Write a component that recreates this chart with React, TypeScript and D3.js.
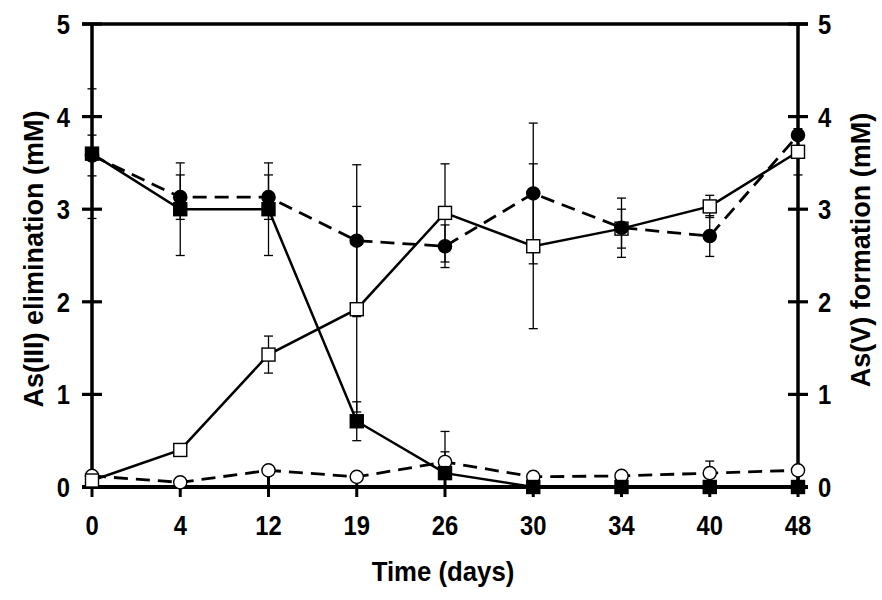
import React from "react";
import * as d3 from "d3";

const categories = ["0", "4", "12", "19", "26", "30", "34", "40", "48"];
const yTicks = [0, 1, 2, 3, 4, 5];

// filled squares, solid line
const filledSquare = [3.6, 3.0, 3.0, 0.71, 0.15, 0.0, 0.0, 0.0, 0.0];
const filledSquareErr = [0.7, 0.5, 0.5, 0.21, 0.23, 0, 0, 0, 0];
// filled circles, dashed line
const filledCircle = [3.58, 3.13, 3.13, 2.66, 2.6, 3.17, 2.8, 2.71, 3.8];
const filledCircleErr = [0.22, 0.24, 0.24, 0.82, 0.23, 0.76, 0.32, 0.22, 0.2];
// open squares, solid line
const openSquare = [0.07, 0.4, 1.43, 1.92, 2.96, 2.6, 2.79, 3.03, 3.62];
const openSquareErr = [0.02, 0.03, 0.2, 1.11, 0.53, 0.89, 0.21, 0.12, 0.25];
// open circles, dashed line
const openCircle = [0.12, 0.05, 0.18, 0.11, 0.27, 0.11, 0.12, 0.15, 0.18];
const openCircleErr = [0.05, 0.02, 0.03, 0.03, 0.33, 0.03, 0.03, 0.13, 0.03];

const W = 882;
const H = 600;
const FONT = "'Liberation Sans', Arial, sans-serif";

export default function App() {
  const x = d3.scalePoint<string>().domain(categories).range([92, 798]);
  const y = d3.scaleLinear().domain([0, 5]).range([487, 24]);
  const x0 = 92;
  const x1 = 798;

  const line = d3
    .line<number>()
    .x((_, i) => x(categories[i]) as number)
    .y((d) => y(d));

  const errBars = (vals: number[], errs: number[], key: string) =>
    vals.map((v, i) => {
      const e = errs[i];
      if (!e) return null;
      const cx = x(categories[i]) as number;
      const lo = Math.max(0, v - e);
      const hi = v + e;
      return (
        <g key={key + i} stroke="#000" strokeWidth={1.3}>
          <line x1={cx} x2={cx} y1={y(lo)} y2={y(hi)} />
          <line x1={cx - 4.5} x2={cx + 4.5} y1={y(hi)} y2={y(hi)} />
          {v - e > 0 && (
            <line x1={cx - 4.5} x2={cx + 4.5} y1={y(lo)} y2={y(lo)} />
          )}
        </g>
      );
    });

  const squares = (vals: number[], fill: string, key: string) =>
    vals.map((v, i) => (
      <rect
        key={key + i}
        x={(x(categories[i]) as number) - 6.5}
        y={y(v) - 6.5}
        width={13}
        height={13}
        fill={fill}
        stroke="#000"
        strokeWidth={1.4}
      />
    ));

  const circles = (vals: number[], fill: string, key: string) =>
    vals.map((v, i) => (
      <circle
        key={key + i}
        cx={x(categories[i]) as number}
        cy={y(v)}
        r={6.6}
        fill={fill}
        stroke="#000"
        strokeWidth={1.4}
      />
    ));

  return (
    <svg
      width={W}
      height={H}
      style={{ position: "absolute", left: 0, top: 0, background: "#fff" }}
      fontFamily={FONT}
      fontWeight="bold"
    >
      <rect width={W} height={H} fill="#fff" />

      {/* series lines */}
      <path d={line(openCircle) || ""} fill="none" stroke="#000" strokeWidth={2.8} strokeDasharray="14,8" />
      <path d={line(filledCircle) || ""} fill="none" stroke="#000" strokeWidth={2.8} strokeDasharray="14,8" />
      <path d={line(openSquare) || ""} fill="none" stroke="#000" strokeWidth={2.5} />
      <path d={line(filledSquare) || ""} fill="none" stroke="#000" strokeWidth={2.5} />

      {/* error bars */}
      {errBars(openCircle, openCircleErr, "eoc")}
      {errBars(openSquare, openSquareErr, "eos")}
      {errBars(filledCircle, filledCircleErr, "efc")}
      {errBars(filledSquare, filledSquareErr, "efs")}

      {/* frame and axes */}
      <line x1={82} x2={808} y1={y(5)} y2={y(5)} stroke="#000" strokeWidth={3.5} />
      <line x1={82} x2={808} y1={y(0)} y2={y(0)} stroke="#000" strokeWidth={4} />
      <line x1={x0} x2={x0} y1={y(5)} y2={y(0)} stroke="#000" strokeWidth={3.5} />
      <line x1={x1} x2={x1} y1={y(5)} y2={y(0)} stroke="#000" strokeWidth={3.5} />

      {yTicks.map((t) => (
        <g key={"yt" + t}>
          <line x1={x0 - 10} x2={x0 + 10} y1={y(t)} y2={y(t)} stroke="#000" strokeWidth={3.2} />
          <line x1={x1 - 10} x2={x1 + 10} y1={y(t)} y2={y(t)} stroke="#000" strokeWidth={3.2} />
          <text transform={`translate(70,${y(t) + 10}) scale(0.85,1)`} textAnchor="end" fontSize={28}>
            {t}
          </text>
          <text transform={`translate(818,${y(t) + 10}) scale(0.85,1)`} textAnchor="start" fontSize={28}>
            {t}
          </text>
        </g>
      ))}

      {categories.map((c) => (
        <g key={"xt" + c}>
          <line x1={x(c) as number} x2={x(c) as number} y1={y(0) - 10} y2={y(0) + 10} stroke="#000" strokeWidth={3} />
          <text transform={`translate(${x(c)},535) scale(0.85,1)`} textAnchor="middle" fontSize={28}>
            {c}
          </text>
        </g>
      ))}

      {/* markers */}
      {circles(openCircle, "#fff", "oc")}
      {squares(openSquare, "#fff", "os")}
      {circles(filledCircle, "#000", "fc")}
      {squares(filledSquare, "#000", "fs")}

      {/* titles */}
      <text transform="translate(443,581) scale(0.92,1)" textAnchor="middle" fontSize={28}>
        Time (days)
      </text>
      <text transform="translate(43,259) rotate(-90)" textAnchor="middle" fontSize={27}>
        As(III) elimination (mM)
      </text>
      <text transform="translate(870,250) rotate(-90)" textAnchor="middle" fontSize={27}>
        As(V) formation (mM)
      </text>
    </svg>
  );
}
